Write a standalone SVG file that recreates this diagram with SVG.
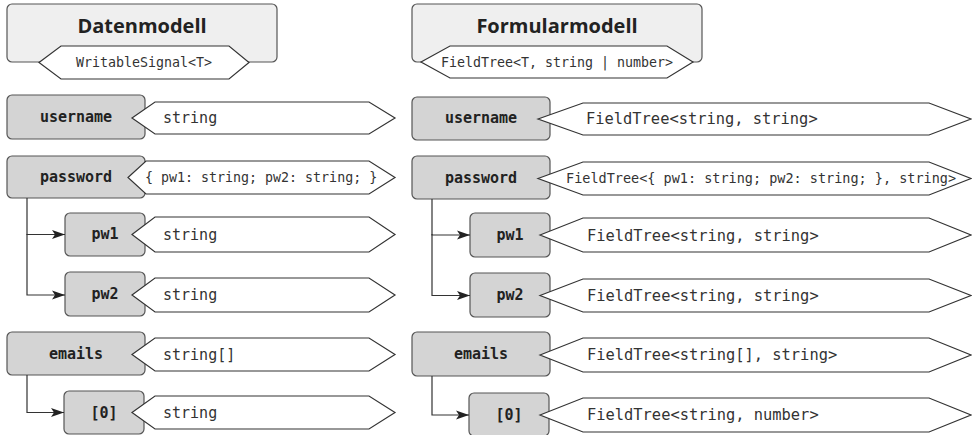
<svg xmlns="http://www.w3.org/2000/svg" width="972" height="435" viewBox="0 0 972 435">
<style>
.hdr{fill:#efefef;stroke:#555;stroke-width:1.2}
.ttl{font-family:"Open Sans","DejaVu Sans",sans-serif;font-weight:bold;font-size:20px;fill:#222;text-anchor:middle}
.hex{fill:#fff;stroke:#333;stroke-width:1.2}
.key{fill:#d4d4d4;stroke:#555;stroke-width:1.2}
.kt{font-family:"DejaVu Sans Mono","Liberation Mono",monospace;font-weight:bold;font-size:15px;fill:#222;text-anchor:middle}
.ht{font-family:"DejaVu Sans Mono","Liberation Mono",monospace;font-size:15px;fill:#333}
.hr{font-family:"DejaVu Sans Mono","Liberation Mono",monospace;font-size:15.4px;fill:#333}
.hs{font-family:"DejaVu Sans Mono","Liberation Mono",monospace;font-size:13.3px;fill:#333}
.con{fill:none;stroke:#333;stroke-width:1.2}
</style>
<defs>
<marker id="ah" markerUnits="userSpaceOnUse" markerWidth="14" markerHeight="10" refX="13" refY="5" orient="auto">
<path d="M0,0.5 L13,5 L0,9.5 L3,5 z" fill="#222"/>
</marker>
</defs>

<g id="hdr-daten">
<rect class="hdr" x="7" y="4" width="270" height="58" rx="5"/>
<text class="ttl" x="142" y="33">Datenmodell</text>
<polygon class="hex" points="39,62.5 61,46 229,46 249,62.5 229,79 61,79"/>
<text class="hs" x="144" y="67" text-anchor="middle">WritableSignal&lt;T&gt;</text>
</g>

<g id="hdr-formular">
<rect class="hdr" x="412" y="4" width="290" height="58" rx="5"/>
<text class="ttl" x="557" y="33">Formularmodell</text>
<polygon class="hex" points="421,62 450,46 667,46 693,62 667,78 450,78"/>
<text class="hs" x="557" y="67" text-anchor="middle">FieldTree&lt;T, string | number&gt;</text>
</g>

<!-- Left column -->
<g id="l-username">
<rect class="key" x="7" y="95" width="138" height="44" rx="5"/>
<text class="kt" x="76" y="122">username</text>
<polygon class="hex" points="132,118 155,102 369,102 395,118 369,134 155,134"/>
<text class="ht" x="163" y="123">string</text>
</g>
<g id="l-password">
<rect class="key" x="7" y="156" width="138" height="42" rx="5"/>
<text class="kt" x="76" y="182">password</text>
<polygon class="hex" points="128,177.5 146,161 369,161 395,177.5 369,194 146,194"/>
<text class="hs" x="145" y="182">{ pw1: string; pw2: string; }</text>
</g>
<g id="l-pw1">
<rect class="key" x="65" y="213" width="80" height="43" rx="5"/>
<text class="kt" x="105" y="239">pw1</text>
<polygon class="hex" points="132,234.5 155,217 369,217 395,234.5 369,252 155,252"/>
<text class="ht" x="163" y="240">string</text>
</g>
<g id="l-pw2">
<rect class="key" x="65" y="272" width="80" height="44" rx="5"/>
<text class="kt" x="105" y="299">pw2</text>
<polygon class="hex" points="132,295 155,278 369,278 395,295 369,312 155,312"/>
<text class="ht" x="163" y="300">string</text>
</g>
<g id="l-emails">
<rect class="key" x="7" y="332" width="138" height="43" rx="5"/>
<text class="kt" x="76" y="359">emails</text>
<polygon class="hex" points="132,354.5 155,338 369,338 395,354.5 369,371 155,371"/>
<text class="ht" x="163" y="360">string[]</text>
</g>
<g id="l-item0">
<rect class="key" x="64" y="391" width="80" height="43" rx="5"/>
<text class="kt" x="104" y="418">[0]</text>
<polygon class="hex" points="132,412.5 155,396 369,396 395,412.5 369,429 155,429"/>
<text class="ht" x="163" y="418">string</text>
</g>

<!-- Right column -->
<g id="r-username">
<rect class="key" x="412" y="97" width="138" height="43" rx="5"/>
<text class="kt" x="481" y="123">username</text>
<polygon class="hex" points="538,119 583,103 929,103 971,119 929,135 583,135"/>
<text class="hr" x="586" y="124">FieldTree&lt;string, string&gt;</text>
</g>
<g id="r-password">
<rect class="key" x="412" y="156" width="138" height="43" rx="5"/>
<text class="kt" x="481" y="183">password</text>
<polygon class="hex" points="538,178.5 583,162 929,162 971,178.5 929,195 583,195"/>
<text class="hs" x="566" y="183" style="font-size:13.5px">FieldTree&lt;{ pw1: string; pw2: string; }, string&gt;</text>
</g>
<g id="r-pw1">
<rect class="key" x="470" y="213" width="80" height="44" rx="5"/>
<text class="kt" x="510" y="240">pw1</text>
<polygon class="hex" points="540,235 583,218 929,218 971,235 929,252 583,252"/>
<text class="hr" x="587" y="241">FieldTree&lt;string, string&gt;</text>
</g>
<g id="r-pw2">
<rect class="key" x="470" y="273" width="80" height="44" rx="5"/>
<text class="kt" x="510" y="300">pw2</text>
<polygon class="hex" points="540,295.5 583,279 929,279 971,295.5 929,312 583,312"/>
<text class="hr" x="587" y="301">FieldTree&lt;string, string&gt;</text>
</g>
<g id="r-emails">
<rect class="key" x="412" y="332" width="138" height="44" rx="5"/>
<text class="kt" x="481" y="359">emails</text>
<polygon class="hex" points="540,355 583,338 929,338 971,355 929,372 583,372"/>
<text class="hr" x="587" y="360">FieldTree&lt;string[], string&gt;</text>
</g>
<g id="r-item0">
<rect class="key" x="469" y="393" width="80" height="43" rx="5"/>
<text class="kt" x="509" y="420">[0]</text>
<polygon class="hex" points="540,415 583,398 929,398 971,415 929,432 583,432"/>
<text class="hr" x="587" y="420">FieldTree&lt;string, number&gt;</text>
</g>

<g id="connectors">
<path class="con" d="M27,198 V234.5 H65" marker-end="url(#ah)"/>
<path class="con" d="M27,234 V295 H65" marker-end="url(#ah)"/>
<path class="con" d="M27,375 V412.5 H64" marker-end="url(#ah)"/>
<path class="con" d="M432,199 V235 H470" marker-end="url(#ah)"/>
<path class="con" d="M432,234 V295.5 H470" marker-end="url(#ah)"/>
<path class="con" d="M432,376 V415 H469" marker-end="url(#ah)"/>
</g>
</svg>
